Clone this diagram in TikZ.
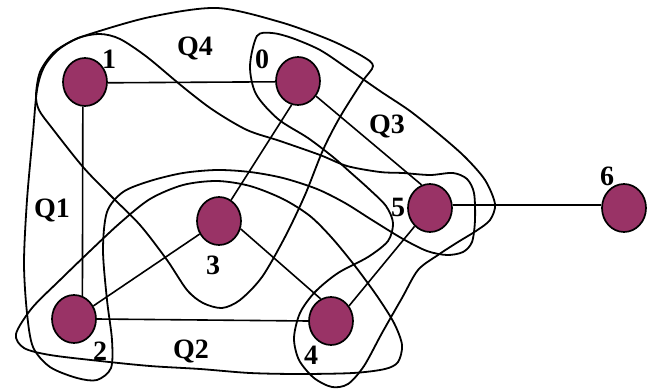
\documentclass[tikz,border=0pt]{standalone}
\usepackage{fontspec}
\setmainfont{Liberation Serif}
\usetikzlibrary{shapes.geometric}
\definecolor{nodefill}{RGB}{153,51,102}
\begin{document}
\begin{tikzpicture}[x=1pt,y=-1pt,
  vtx/.style={ellipse,draw=black,line width=1.7pt,fill=nodefill,minimum width=44pt,minimum height=48pt,inner sep=0pt},
  lbl/.style={font=\fontsize{28}{28}\selectfont\bfseries,inner sep=0pt},
  edge/.style={line width=1.6pt},
  hyper/.style={line width=1.8pt}]
\useasboundingbox (0,0) rectangle (658,390);

% hyperedge outlines
% Q4
\draw[hyper] plot[smooth cycle] coordinates {
 (90,34) (150,17) (217,8) (280,22) (330,40) (362,56) (373,66) (362,82)
 (340,117) (323,150) (305,195) (285,237) (262,277) (240,300) (222,308)
 (203,303) (187,290) (167,260) (140,225) (110,195) (83,167) (52,128)
 (39,110) (36,95) (40,72) (53,53) (70,42)};
% Q1
\draw[hyper] plot[smooth cycle] coordinates {
 (97,380) (111,368) (112,340) (107,300) (103,250) (107,212) (123,192)
 (150,181) (183,173) (217,170) (250,172) (283,178) (317,189) (345,203)
 (372,220) (403,239) (427,251) (447,255) (463,252) (472,242) (475,220)
 (474,193) (467,179) (453,173) (430,175) (403,173) (380,172) (347,166)
 (320,155) (280,141) (247,130) (213,110) (183,87) (147,57) (120,39)
 (100,34) (78,38) (58,50) (44,67) (37,90) (33,133) (27,200) (24,263)
 (27,313) (33,347) (50,367) (77,378)};
% Q2
\draw[hyper] plot[smooth cycle] coordinates {
 (16,334) (32,308) (60,280) (90,251) (120,223) (150,199) (183,185)
 (217,181) (250,186) (283,199) (310,216) (332,238) (355,266) (377,296)
 (394,323) (402,345) (398,362) (385,369) (353,373) (300,374) (250,373)
 (200,369) (150,366) (100,361) (50,355) (24,348)};
% Q3
\draw[hyper] plot[smooth cycle] coordinates {
 (257,36) (272,33) (292,38) (320,50) (347,68) (380,91) (410,111)
 (440,135) (465,157) (485,180) (495,204) (490,220) (476,231) (458,242)
 (438,255) (418,270) (402,298) (382,333) (364,366) (348,384) (332,387)
 (314,378) (299,360) (294,338) (300,313) (315,292) (338,273) (368,257)
 (388,241) (393,223) (386,206) (369,189) (350,172) (333,157) (308,138)
 (278,119) (256,94) (250,66)};

% vertices
\node[vtx] (n1) at (85,82) {};
\node[vtx] (n0) at (298,81) {};
\node[vtx] (n3) at (219,221) {};
\node[vtx] (n2) at (74,319) {};
\node[vtx] (n4) at (331,321) {};
\node[vtx] (n5) at (430,208) {};
\node[vtx] (n6) at (624,208) {};

% graph edges
\draw[edge] (n1.-2) -- (n0.182);
\draw[edge] (n1.-95) -- (n2.70);
\draw[edge] (n0.-105) -- (n3.60);
\draw[edge] (n0.-40) -- (n5.110);
\draw[edge] (n3) -- (n2);
\draw[edge] (n3.-20) -- (n4.115);
\draw[edge] (n2.east) -- (n4.west);
\draw[edge] (n4.40) -- (n5.230);
\draw[edge] (n5.8) -- (n6.172);

% labels
\node[lbl] (l1) at (109,59) {1};
\node[lbl] (l0) at (262,59) {0};
\node[lbl] (l3) at (213,265) {3};
\node[lbl] (l2) at (100,351) {2};
\node[lbl] (l4) at (311,355) {4};
\node[lbl] (l5) at (398,207) {5};
\node[lbl] (l6) at (607,176) {6};
\node[lbl] (q4) at (195,49) {Q4};
\node[lbl] (q3) at (387,127) {Q3};
\node[lbl] (q1) at (52,210) {Q1};
\node[lbl] (q2) at (191,351) {Q2};
\end{tikzpicture}
\end{document}
